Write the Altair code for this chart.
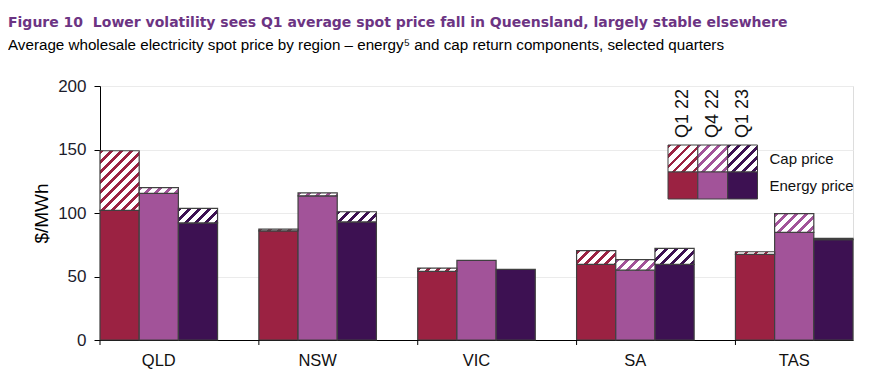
import altair as alt

# ---------------- data ----------------
regions = ["QLD", "NSW", "VIC", "SA", "TAS"]
quarters = ["Q1 22", "Q4 22", "Q1 23"]
energy_q1_22 = [102.0, 86.0, 54.0, 59.6, 67.5]
cap_q1_22 = [47.0, 1.3, 2.6, 10.7, 2.0]
energy_q4_22 = [115.5, 113.5, 62.7, 55.0, 84.8]
cap_q4_22 = [4.5, 2.3, 0.0, 8.3, 14.7]
energy_q1_23 = [92.2, 93.0, 55.6, 59.6, 79.0]
cap_q1_23 = [11.4, 8.0, 0.0, 12.6, 1.0]
components = ["Cap price", "Energy price"]
y_ticks = [0, 50, 100, 150, 200]

# ---------------- style ----------------
colors = ["#9b2242", "#a25399", "#3d1152"]
STROKE = "#404040"
W, H = 753, 254
Y_MAX = 200
PAD_INNER = 0.26

step = W / (len(regions) - PAD_INNER)
bar_w = step * (1 - PAD_INNER) / len(quarters)
px_per_unit = H / Y_MAX


def hatch(color, w, h, period=10.0, frac=0.38):
    """Diagonal '/' stripes as a linear gradient (bounding-box units)."""
    w = max(w, 0.5)
    h = max(h, 0.5)
    m = max(1.0, (w + h) * w / (w * w + h * h)) * 1.02
    T = period * w / (m * (w * w + h * h))
    stops = []
    k = 0
    while k * T < 1:
        a = k * T
        b = min(1.0, a + frac * T)
        c = min(1.0, (k + 1) * T)
        stops.append({"offset": round(a, 5), "color": color})
        stops.append({"offset": round(b, 5), "color": color})
        if b < 1:
            stops.append({"offset": round(b, 5), "color": "white"})
            stops.append({"offset": round(c, 5), "color": "white"})
        k += 1
    return {"gradient": "linear", "x1": 0, "y1": 0, "x2": m, "y2": m * h / w,
            "stops": stops}


energy = [energy_q1_22, energy_q4_22, energy_q1_23]
cap = [cap_q1_22, cap_q4_22, cap_q1_23]

rows = []
for qi, q in enumerate(quarters):
    for ri, r in enumerate(regions):
        e = energy[qi][ri]
        c = cap[qi][ri]
        rows.append({"region": r, "quarter": q, "energy": e, "cap": c,
                     "total": e + c,
                     "hatch": hatch(colors[qi], bar_w, c * px_per_unit)})
data = alt.Data(values=rows)

# legend table
LEG_X0, LEG_X1 = 568, 657.5
LEG_Y0, LEG_Y1 = 59, 113
sw_w = (LEG_X1 - LEG_X0) / len(quarters)
sw_h = (LEG_Y1 - LEG_Y0) / len(components)
leg_rows = []
for qi, q in enumerate(quarters):
    leg_rows.append({"quarter": q, "comp": components[0],
                     "fill": hatch(colors[qi], sw_w, sw_h)})
    leg_rows.append({"quarter": q, "comp": components[1], "fill": colors[qi]})
leg_data = alt.Data(values=leg_rows)
leg_q = alt.Data(values=[{"quarter": q} for q in quarters])
leg_c = alt.Data(values=[{"comp": c} for c in components])
reg_data = alt.Data(values=[{"region": r} for r in regions])

FONT = "Liberation Sans"

x_scale = alt.Scale(domain=regions, paddingInner=PAD_INNER, paddingOuter=0)
xo = alt.XOffset("quarter:N", sort=quarters,
                 scale=alt.Scale(domain=quarters, paddingInner=0, paddingOuter=0))
y_scale = alt.Scale(domain=[0, Y_MAX], nice=False, zero=True)

energy_bars = alt.Chart(data).mark_bar(stroke=STROKE, strokeWidth=1.2).encode(
    x=alt.X("region:N", sort=regions, scale=x_scale, title=None,
            axis=alt.Axis(labelAngle=0, ticks=False, tickSize=0, labelPadding=12,
                          labelFontSize=16.5, labelColor="#111", labelFont=FONT,
                          domainColor="black", domainWidth=1, grid=False)),
    xOffset=xo,
    y=alt.Y("energy:Q", scale=y_scale, title="$/MWh",
            axis=alt.Axis(values=y_ticks, grid=True, gridColor="#ebebeb",
                          domainColor="black", tickColor="black", tickSize=6,
                          labelFontSize=17, labelColor="#1c1c2c", labelPadding=8,
                          labelFont=FONT, titleFont=FONT, titleFontSize=19,
                          titleFontWeight="normal", titleColor="black",
                          titlePadding=6)),
    fill=alt.Fill("quarter:N", scale=alt.Scale(domain=quarters, range=colors),
                  legend=None),
)

cap_bars = alt.Chart(data).transform_filter("datum.cap > 0").mark_bar(
    stroke=STROKE, strokeWidth=1.2
).encode(
    x=alt.X("region:N", sort=regions, scale=x_scale, axis=None),
    xOffset=xo,
    y=alt.Y("energy:Q", scale=y_scale, axis=None),
    y2="total:Q",
    fill=alt.Fill("hatch:N", scale=None),
)

x_ticks = alt.Chart(reg_data).mark_rule(color="black", strokeWidth=1).encode(
    x=alt.X("region:N", sort=regions, scale=x_scale, axis=None, bandPosition=0),
    y=alt.value(H),
    y2=alt.value(H + 5),
)

leg_x = alt.Scale(domain=quarters, range=[LEG_X0, LEG_X1], paddingInner=0, paddingOuter=0)
leg_y = alt.Scale(domain=components, range=[LEG_Y0, LEG_Y1], paddingInner=0, paddingOuter=0)

leg_rect = alt.Chart(leg_data).mark_rect(stroke=STROKE, strokeWidth=1).encode(
    x=alt.X("quarter:N", sort=quarters, scale=leg_x, axis=None),
    y=alt.Y("comp:N", sort=components, scale=leg_y, axis=None),
    fill=alt.Fill("fill:N", scale=None),
)

leg_qtext = alt.Chart(leg_q).mark_text(
    angle=270, align="left", baseline="middle", fontSize=18, font=FONT, color="#111"
).encode(
    x=alt.X("quarter:N", sort=quarters, scale=leg_x, axis=None),
    y=alt.value(LEG_Y0 - 7),
    text="quarter:N",
)

leg_ctext = alt.Chart(leg_c).mark_text(
    align="left", baseline="middle", fontSize=15, font=FONT, color="#111"
).encode(
    x=alt.value(LEG_X1 + 12),
    y=alt.Y("comp:N", sort=components, scale=leg_y, axis=None),
    text="comp:N",
)

chart = alt.layer(
    energy_bars, cap_bars, x_ticks, leg_rect, leg_qtext, leg_ctext
).resolve_scale(
    x="independent", y="independent"
).properties(
    width=W, height=H,
    autosize=alt.AutoSizeParams(type="none"),
    padding={"left": 92, "top": 78, "right": 10, "bottom": 30},
    title=alt.TitleParams(
        text="Figure 10\u00a0 Lower volatility sees Q1 average spot price fall in Queensland, largely stable elsewhere",
        subtitle="Average wholesale electricity spot price by region \u2013 energy\u2075 and cap return components, selected quarters",
        anchor="start", frame="group", dx=-92, offset=24,
        font="DejaVu Sans", fontSize=14, fontWeight="bold", color="#6c3483",
        subtitleFont=FONT, subtitleFontSize=15.2, subtitleColor="black",
        subtitlePadding=8,
    ),
).configure_view(stroke=None).configure(background="white")

chart.save("out.html", embed_options={"renderer": "svg", "actions": False})
